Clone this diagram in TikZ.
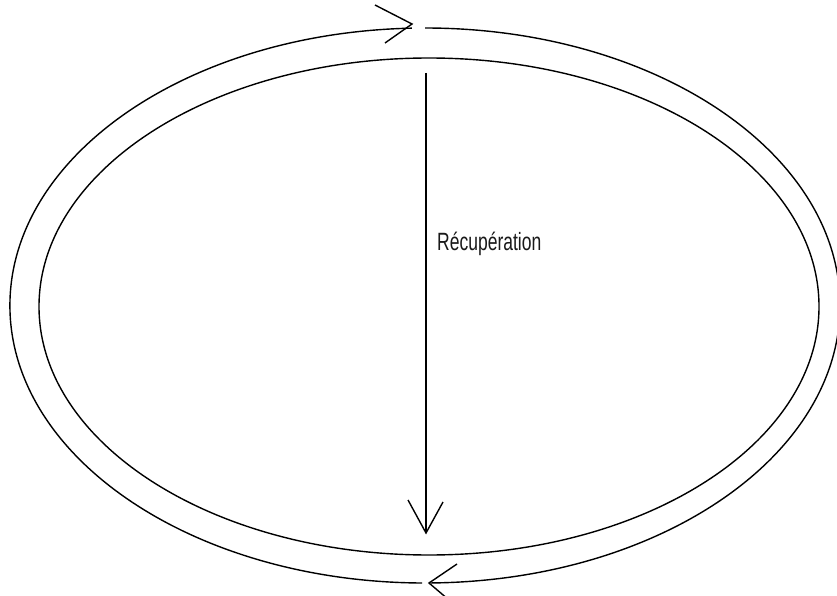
\documentclass[tikz,border=0pt]{standalone}
\usepackage{fontspec}
\setmainfont{Liberation Sans}
\usetikzlibrary{arrows.meta}
\begin{document}
\begin{tikzpicture}[x=1pt,y=-1pt,
  stroke/.style={line width=1.4pt,black,line join=miter},
  lbl/.style={font=\fontsize{25}{27}\selectfont,inner sep=0pt,text=black!90}]
\useasboundingbox (0,0) rectangle (837,596);
\fill[white] (0,0) rectangle (837,596);
% inner ellipse
\draw[stroke] (429,306.5) ellipse [x radius=390, y radius=248.5];
% outer ellipse with gaps near arrow tips
\draw[stroke] (425,28) arc [start angle=-90, end angle=89.2, x radius=415, y radius=277.5];
\draw[stroke] (422,583) arc [start angle=90.4, end angle=268.2, x radius=415, y radius=277.5];
% top arrow head (pointing right)
\coordinate (ttip) at (412,24);
\coordinate (ta) at (375,5);
\coordinate (tb) at (385,43);
\draw[stroke] (ta) -- (ttip) -- (tb);
% bottom arrow head (pointing left)
\coordinate (btip) at (429,583);
\coordinate (ba) at (457,564);
\coordinate (bb) at (449,600);
\draw[stroke] (ba) -- (btip) -- (bb);
% vertical arrow
\coordinate (vtop) at (426,73);
\coordinate (vbot) at (426,533);
\coordinate (va) at (408,500);
\coordinate (vb) at (443,502);
\draw[stroke] (vtop) -- (vbot);
\draw[stroke] (va) -- (vbot) -- (vb);
% label
\node[lbl,anchor=base west] (rec) at (437,250) {\scalebox{0.7}[1]{Récupération}};
\end{tikzpicture}
\end{document}
